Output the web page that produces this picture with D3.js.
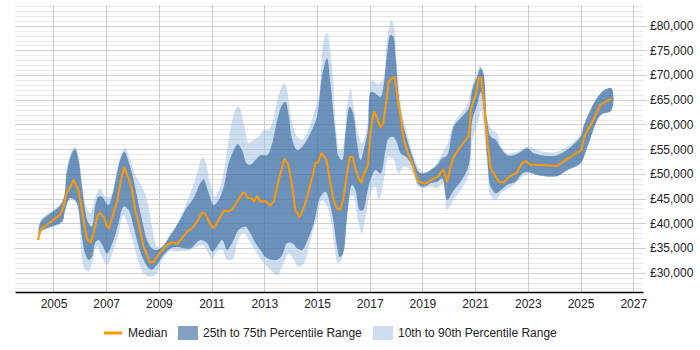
<!DOCTYPE html>
<html>
<head>
<meta charset="utf-8">
<script src="https://cdnjs.cloudflare.com/ajax/libs/d3/7.8.5/d3.min.js"></script>
<style>
  body { margin: 0; background: #fff; }
  text { font-family: "Liberation Sans", Arial, sans-serif; font-size: 12px; fill: #222; }
</style>
</head>
<body>
<script>
//----------------------------
// data (decimal years, salary in GBP)
//----------------------------
var medianYears = [2004.41, 2004.52, 2005.25, 2005.38, 2005.51, 2005.60, 2005.76, 2005.95, 2006.14, 2006.27,
  2006.42, 2006.52, 2006.67, 2006.77, 2006.93, 2007.03, 2007.10, 2007.28, 2007.43, 2007.56,
  2007.69, 2007.85, 2007.98, 2008.10, 2008.23, 2008.42, 2008.67, 2008.80, 2009.05, 2009.31,
  2009.50, 2009.69, 2009.88, 2010.07, 2010.26, 2010.45, 2010.64, 2010.76, 2010.93, 2011.08,
  2011.27, 2011.48, 2011.65, 2011.78, 2011.97, 2012.19, 2012.28, 2012.37, 2012.54, 2012.62,
  2012.73, 2012.85, 2013.04, 2013.23, 2013.36, 2013.55, 2013.76, 2013.89, 2014.02, 2014.18,
  2014.34, 2014.52, 2014.69, 2014.81, 2014.94, 2015.03, 2015.18, 2015.36, 2015.51, 2015.63,
  2015.76, 2015.89, 2015.99, 2016.14, 2016.24, 2016.35, 2016.46, 2016.58, 2016.68, 2016.80,
  2016.93, 2017.03, 2017.13, 2017.18, 2017.31, 2017.41, 2017.51, 2017.64, 2017.72, 2017.81,
  2017.94, 2018.07, 2018.19, 2018.29, 2018.45, 2018.61, 2018.80, 2018.90, 2019.08, 2019.24,
  2019.43, 2019.58, 2019.79, 2019.94, 2020.07, 2020.19, 2020.45, 2020.76, 2020.85, 2021.02,
  2021.14, 2021.23, 2021.33, 2021.46, 2021.59, 2021.74, 2021.90, 2022.09, 2022.28, 2022.57,
  2022.79, 2022.92, 2023.08, 2023.48, 2024.12, 2024.43, 2025.03, 2025.13, 2025.45, 2025.76,
  2026.17];
var medianPay = [36600, 38800, 41700, 43400, 46400, 46900, 48800, 46700, 40700, 36800,
  36100, 38000, 41500, 42100, 41100, 39300, 39000, 42100, 44700, 48800,
  51300, 49100, 46700, 42700, 40000, 35300, 32000, 32200, 34100, 35600,
  36200, 35800, 37000, 38300, 39000, 40300, 42200, 41900, 40000, 39000,
  40700, 42600, 42400, 42800, 44400, 46200, 46100, 45100, 45000, 44400,
  45500, 44400, 44500, 43600, 44400, 48800, 53000, 52200, 48800, 42600,
  41300, 43400, 46700, 49100, 52200, 52300, 54200, 52800, 48100, 44700,
  43000, 42800, 44700, 50100, 53400, 53400, 51100, 49100, 48200, 50100,
  51800, 58200, 61900, 62600, 60900, 59400, 60200, 65000, 68700, 69300,
  69600, 65000, 60900, 56900, 54200, 52200, 48800, 48400, 48000, 48400,
  49100, 49400, 50900, 48400, 51500, 53500, 55500, 57700, 63300, 66000,
  69400, 69400, 64600, 56900, 51100, 49800, 48400, 48300, 49400, 50200,
  52200, 52600, 51900, 51800, 51600, 52800, 54800, 57400, 60600, 64000,
  65300];

// 75th percentile (top of dark band)
var q75Years = [2004.43, 2004.52, 2005.32, 2005.51, 2005.70, 2005.82, 2005.95, 2006.08, 2006.20, 2006.33,
  2006.46, 2006.58, 2006.71, 2006.84, 2006.96, 2007.09, 2007.22, 2007.41, 2007.53, 2007.69,
  2007.85, 2008.04, 2008.17, 2008.36, 2008.55, 2008.74, 2008.93, 2009.12, 2009.43, 2009.81,
  2010.00, 2010.32, 2010.57, 2010.70, 2010.89, 2011.08, 2011.27, 2011.46, 2011.65, 2011.84,
  2011.99, 2012.16, 2012.32, 2012.47, 2012.66, 2012.85, 2013.11, 2013.30, 2013.49, 2013.68,
  2013.80, 2013.93, 2014.06, 2014.25, 2014.44, 2014.62, 2014.81, 2015.00, 2015.19, 2015.38,
  2015.51, 2015.70, 2015.82, 2015.95, 2016.08, 2016.24, 2016.37, 2016.52, 2016.65, 2016.77,
  2016.93, 2017.05, 2017.22, 2017.41, 2017.53, 2017.66, 2017.79, 2017.89, 2017.98, 2018.10,
  2018.23, 2018.42, 2018.67, 2018.86, 2019.05, 2019.31, 2019.56, 2019.75, 2019.94, 2020.19,
  2020.45, 2020.76, 2020.89, 2021.08, 2021.21, 2021.31, 2021.46, 2021.59, 2021.78, 2021.97,
  2022.22, 2022.47, 2022.73, 2022.98, 2023.23, 2024.12, 2025.00, 2025.13, 2025.76, 2026.17];
var q75Pay = [38000, 40300, 44100, 50400, 54200, 55000, 52800, 47400, 42700, 40000,
  39300, 43400, 45400, 45400, 44400, 43700, 45400, 50100, 52800, 54500,
  52500, 48800, 45400, 40700, 36600, 34900, 34600, 35300, 37500, 40700,
  42700, 45100, 48100, 48800, 46100, 43700, 44700, 47400, 52200, 54800,
  56000, 54800, 52200, 51800, 52800, 53800, 53800, 56200, 60900, 64000,
  64600, 61600, 56900, 54800, 55500, 56900, 58900, 61600, 69700, 73400,
  68300, 58200, 53500, 52800, 58200, 63600, 62300, 56200, 52800, 54800,
  58900, 66600, 66300, 65600, 68000, 74400, 78100, 77800, 73700, 65600,
  60900, 56900, 52800, 50400, 50100, 50800, 51800, 53200, 53800, 59600,
  61300, 63300, 67000, 69700, 71400, 70400, 60600, 57500, 56900, 55200,
  53800, 53800, 54500, 55200, 54200, 53800, 57500, 59900, 66300, 67300];

// 25th percentile (bottom of dark band)
var q25Years = [2004.43, 2004.52, 2005.32, 2005.44, 2005.63, 2005.82, 2005.95, 2006.08, 2006.20, 2006.33,
  2006.46, 2006.58, 2006.71, 2006.85, 2007.03, 2007.28, 2007.47, 2007.66, 2007.85, 2008.04,
  2008.23, 2008.42, 2008.61, 2008.74, 2008.93, 2009.12, 2009.43, 2009.69, 2010.19, 2010.57,
  2010.83, 2011.02, 2011.21, 2011.40, 2011.59, 2011.78, 2012.03, 2012.28, 2012.47, 2012.66,
  2012.85, 2013.04, 2013.30, 2013.49, 2013.68, 2013.86, 2014.06, 2014.25, 2014.44, 2014.62,
  2014.88, 2015.13, 2015.32, 2015.57, 2015.76, 2015.86, 2015.99, 2016.14, 2016.33, 2016.46,
  2016.62, 2016.75, 2016.90, 2017.03, 2017.22, 2017.41, 2017.60, 2017.72, 2017.89, 2018.04,
  2018.17, 2018.36, 2018.55, 2018.74, 2018.86, 2019.05, 2019.31, 2019.56, 2019.75, 2019.94,
  2020.19, 2020.45, 2020.76, 2020.89, 2021.08, 2021.21, 2021.31, 2021.46, 2021.59, 2021.78,
  2021.97, 2022.22, 2022.53, 2022.79, 2023.00, 2023.36, 2024.12, 2024.50, 2025.00, 2025.26,
  2025.76, 2026.17];
var q25Pay = [35300, 38300, 40300, 42700, 45100, 44700, 42700, 37300, 33900, 32600,
  33200, 36000, 36600, 35600, 33900, 36600, 40000, 43400, 42700, 39300,
  35300, 32600, 30900, 30600, 31600, 33200, 34900, 35200, 34900, 36600,
  36000, 34300, 35300, 36600, 34600, 36000, 38700, 39300, 38000, 36000,
  34600, 33200, 32600, 32600, 33600, 36000, 36000, 34900, 34600, 36300,
  40000, 45400, 46400, 42000, 35300, 33200, 33900, 41300, 47800, 46700,
  42700, 42700, 46100, 48800, 50800, 50100, 54800, 57200, 57500, 56200,
  54200, 53500, 52200, 49400, 47800, 47400, 48100, 48400, 49100, 44700,
  46700, 48400, 51800, 60900, 64000, 66600, 64000, 53400, 47400, 46100,
  46700, 47800, 48400, 50100, 50400, 49800, 49600, 50800, 52200, 55500,
  61900, 62900];

// 90th percentile (top of light band)
var p90Years = [2004.43, 2004.52, 2005.32, 2005.51, 2005.70, 2005.82, 2005.95, 2006.08, 2006.20, 2006.39,
  2006.58, 2006.77, 2006.96, 2007.15, 2007.41, 2007.60, 2007.72, 2007.91, 2008.10, 2008.36,
  2008.55, 2008.74, 2008.93, 2009.18, 2009.43, 2009.56, 2009.94, 2010.19, 2010.45, 2010.64,
  2010.76, 2010.95, 2011.14, 2011.33, 2011.52, 2011.71, 2011.90, 2012.03, 2012.22, 2012.41,
  2012.60, 2012.79, 2012.98, 2013.17, 2013.36, 2013.55, 2013.76, 2013.86, 2014.06, 2014.25,
  2014.44, 2014.62, 2014.88, 2015.07, 2015.26, 2015.38, 2015.57, 2015.74, 2015.86, 2015.99,
  2016.12, 2016.27, 2016.39, 2016.55, 2016.71, 2016.90, 2017.09, 2017.28, 2017.47, 2017.66,
  2017.82, 2017.91, 2018.04, 2018.23, 2018.42, 2018.67, 2018.93, 2019.18, 2019.50, 2019.75,
  2019.94, 2020.19, 2020.45, 2020.70, 2020.89, 2021.08, 2021.18, 2021.31, 2021.46, 2021.65,
  2021.84, 2021.97, 2022.22, 2022.60, 2022.98, 2023.36, 2024.12, 2025.00, 2025.13, 2025.76,
  2026.17];
var p90Pay = [38300, 40700, 44400, 51500, 54800, 55500, 53800, 48100, 44100, 42000,
  45100, 47100, 45400, 45400, 50800, 54500, 55300, 52800, 49800, 47400,
  44700, 39300, 35300, 35300, 38000, 38700, 42700, 46100, 50100, 53200,
  52500, 48100, 45400, 47400, 52200, 58900, 62900, 63600, 60200, 56200,
  56900, 57500, 58900, 58900, 61600, 66000, 68300, 67000, 60200, 57500,
  56900, 58200, 62300, 65600, 77100, 78500, 71700, 58200, 54800, 55500,
  62900, 67300, 63600, 58200, 56200, 59600, 69000, 68300, 68700, 77100,
  81200, 80100, 71700, 62300, 58200, 53500, 50800, 50400, 51800, 54200,
  55900, 60200, 62300, 63900, 68000, 70700, 72000, 70700, 61000, 58900,
  58200, 55900, 54200, 54500, 55500, 54800, 54500, 57900, 60000, 66400,
  67400];

// 10th percentile (bottom of light band)
var p10Years = [2004.43, 2004.52, 2005.32, 2005.44, 2005.63, 2005.89, 2006.01, 2006.14, 2006.33, 2006.46,
  2006.65, 2006.84, 2007.03, 2007.28, 2007.47, 2007.66, 2007.91, 2008.17, 2008.42, 2008.67,
  2008.93, 2009.12, 2009.43, 2009.69, 2010.19, 2010.45, 2010.70, 2010.89, 2011.02, 2011.21,
  2011.40, 2011.59, 2011.78, 2012.03, 2012.22, 2012.47, 2012.73, 2012.98, 2013.23, 2013.49,
  2013.68, 2013.93, 2014.12, 2014.31, 2014.50, 2014.75, 2015.00, 2015.19, 2015.38, 2015.51,
  2015.70, 2015.79, 2015.92, 2016.08, 2016.27, 2016.39, 2016.55, 2016.71, 2016.84, 2017.03,
  2017.22, 2017.34, 2017.53, 2017.72, 2017.91, 2018.10, 2018.29, 2018.48, 2018.67, 2018.86,
  2019.05, 2019.31, 2019.56, 2019.79, 2019.94, 2020.19, 2020.45, 2020.76, 2020.89, 2021.08,
  2021.23, 2021.33, 2021.46, 2021.59, 2021.78, 2021.97, 2022.47, 2022.98, 2023.48, 2024.12,
  2024.50, 2025.00, 2025.26, 2025.76, 2026.17];
var p10Pay = [34900, 38100, 40100, 42400, 44700, 44100, 38000, 31200, 30200, 31900,
  35300, 33200, 31600, 34600, 38000, 41700, 38300, 33200, 29900, 29200,
  29900, 32600, 34400, 34300, 34600, 35300, 35400, 33900, 32600, 34300,
  34600, 32600, 32600, 37000, 38000, 36000, 33900, 31900, 30600, 29500,
  31200, 33900, 32600, 31200, 31900, 36600, 41300, 44700, 43400, 41300,
  33900, 31900, 32600, 38000, 45400, 45400, 40700, 38000, 41300, 46100,
  47400, 44700, 48400, 53500, 52800, 50100, 51500, 51100, 49800, 47400,
  47100, 47400, 47100, 48100, 42700, 44700, 46700, 49800, 56900, 59900,
  62900, 58900, 51800, 45400, 44700, 46100, 47800, 50100, 49600, 49500,
  50700, 52000, 55300, 61800, 62800];

var xTicks = [2005, 2007, 2009, 2011, 2013, 2015, 2017, 2019, 2021, 2023, 2025, 2027];
var yTicks = [30000, 35000, 40000, 45000, 50000, 55000, 60000, 65000, 70000, 75000, 80000];
var legendLabels = ["Median", "25th to 75th Percentile Range", "10th to 90th Percentile Range"];

//----------------------------
// layout
//----------------------------
var width = 700;
var height = 350;
var plotLeft = 15, plotRight = 643, plotTop = 5, plotBottom = 292;

var medianColor = "#ff9900";
var darkBand = "rgba(30, 83, 143, 0.55)";
var lightBand = "rgba(153, 189, 225, 0.5)";

var x = d3.scaleLinear().domain([2003.54, 2027.37]).range([plotLeft, plotRight]);
var y = d3.scaleLinear().domain([26093, 84190]).range([plotBottom, plotTop]);

var svg = d3.select("body").append("svg")
  .attr("width", width)
  .attr("height", height);

svg.append("clipPath").attr("id", "plot-clip")
  .append("rect")
  .attr("x", plotLeft).attr("y", plotTop)
  .attr("width", plotRight - plotLeft).attr("height", plotBottom - plotTop);

// grid lines
var minorValues = d3.range(27000, 84001, 1000).filter(function(v) { return v % 5000 !== 0; });
svg.append("g").selectAll("line")
  .data(minorValues)
  .enter().append("line")
  .attr("x1", plotLeft).attr("x2", plotRight)
  .attr("y1", function(d) { return Math.round(y(d)) + 0.5; })
  .attr("y2", function(d) { return Math.round(y(d)) + 0.5; })
  .attr("stroke", "#e8e8e8");

svg.append("g").selectAll("line")
  .data(yTicks)
  .enter().append("line")
  .attr("x1", plotLeft).attr("x2", plotRight + 3)
  .attr("y1", function(d) { return Math.round(y(d)) + 0.5; })
  .attr("y2", function(d) { return Math.round(y(d)) + 0.5; })
  .attr("stroke", "#cfcfcf");

svg.append("g").selectAll("line")
  .data(xTicks)
  .enter().append("line")
  .attr("x1", function(d) { return Math.round(x(d)) + 0.5; })
  .attr("x2", function(d) { return Math.round(x(d)) + 0.5; })
  .attr("y1", plotTop).attr("y2", plotBottom)
  .attr("stroke", "#cccccc");

//----------------------------
// bands: upper edge forward, lower edge back, closed
//----------------------------
var bandLine = d3.line()
  .x(function(d) { return x(d[0]); })
  .y(function(d) { return y(d[1]); })
  .curve(d3.curveCatmullRom.alpha(0.5));

function bandPath(upYears, upPay, loYears, loPay) {
  var pts = [];
  for (var i = 0; i < upYears.length; i++) pts.push([upYears[i], upPay[i]]);
  for (var j = loYears.length - 1; j >= 0; j--) pts.push([loYears[j], loPay[j]]);
  return bandLine(pts) + "Z";
}

var plot = svg.append("g").attr("clip-path", "url(#plot-clip)");

plot.append("path")
  .attr("d", bandPath(p90Years, p90Pay, p10Years, p10Pay))
  .attr("fill", lightBand);

plot.append("path")
  .attr("d", bandPath(q75Years, q75Pay, q25Years, q25Pay))
  .attr("fill", darkBand);

var medianLine = d3.line()
  .x(function(d, i) { return x(medianYears[i]); })
  .y(function(d) { return y(d); });

plot.append("path")
  .attr("d", medianLine(medianPay))
  .attr("fill", "none")
  .attr("stroke", medianColor)
  .attr("stroke-width", 2)
  .attr("stroke-linejoin", "round");

//----------------------------
// axes
//----------------------------
var xAxis = svg.append("g")
  .attr("transform", "translate(0," + plotBottom + ")")
  .call(d3.axisBottom(x).tickValues(xTicks).tickFormat(d3.format("d")).tickSize(0).tickSizeOuter(0).tickPadding(7));
xAxis.select(".domain").attr("stroke", "#000").attr("stroke-width", 1.5);
xAxis.selectAll("text").attr("font-size", 12).attr("font-family", "Liberation Sans, Arial, sans-serif").attr("fill", "#222");

var yAxis = svg.append("g")
  .attr("transform", "translate(" + (plotRight + 3) + ",0)")
  .call(d3.axisRight(y).tickValues(yTicks).tickSize(0).tickPadding(4)
    .tickFormat(function(d) { return "£" + d3.format(",")(d); }));
yAxis.select(".domain").remove();
yAxis.selectAll("text").attr("font-size", 12).attr("font-family", "Liberation Sans, Arial, sans-serif").attr("fill", "#222");

//----------------------------
// legend
//----------------------------
var legend = svg.append("g").attr("transform", "translate(0,333)");

legend.append("line")
  .attr("x1", 104).attr("x2", 122)
  .attr("y1", 0).attr("y2", 0)
  .attr("stroke", medianColor).attr("stroke-width", 3);
legend.append("text").attr("x", 128).attr("y", 0).attr("dy", "0.35em").text(legendLabels[0]);

legend.append("rect")
  .attr("x", 178).attr("y", -7).attr("width", 20).attr("height", 14)
  .attr("fill", darkBand);
legend.append("text").attr("x", 203).attr("y", 0).attr("dy", "0.35em").text(legendLabels[1]);

legend.append("rect")
  .attr("x", 373).attr("y", -7).attr("width", 20).attr("height", 14)
  .attr("fill", lightBand);
legend.append("text").attr("x", 398).attr("y", 0).attr("dy", "0.35em").text(legendLabels[2]);
</script>
</body>
</html>
